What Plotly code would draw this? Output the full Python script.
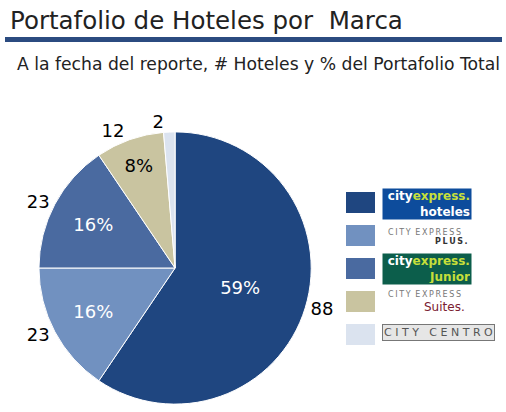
import plotly.graph_objects as go

brands = ["City Express Hoteles", "City Express Plus", "City Express Junior",
          "City Express Suites", "City Centro"]
hotels = [88, 23, 23, 12, 2]
pct_labels = ["%{percent:.0%}", "%{percent:.0%}", "%{percent:.0%}", "%{percent:.0%}", ""]
colors = ["#1f4680", "#7191c0", "#4a6aa0", "#c9c4a0", "#dbe3ef"]
pct_colors = ["white", "white", "white", "black", "black"]

FONT = "DejaVu Sans"
dom = dict(x=[0.077, 0.615], y=[0.019, 0.68])
common = dict(labels=brands, values=hotels, sort=False, direction="clockwise", rotation=0,
              domain=dom, showlegend=False)

fig = go.Figure()
fig.add_trace(go.Pie(
    **common,
    marker=dict(colors=colors, line=dict(color="white", width=1)),
    texttemplate=pct_labels, textposition="inside", insidetextorientation="horizontal",
    textfont=dict(family=FONT, size=18, color=pct_colors),
    hoverinfo="label+value+percent",
))
# value labels outside (split in two traces so the small slice label is not pushed away)
for pos in (["outside"] * 4 + ["none"], ["none"] * 4 + ["outside"]):
    fig.add_trace(go.Pie(
        **common,
        marker=dict(colors=["rgba(0,0,0,0)"] * 5, line=dict(width=0)),
        texttemplate="%{value}", textposition=pos,
        textfont=dict(family=FONT, size=18, color="black"),
        hoverinfo="skip",
    ))

shapes = [dict(type="rect", xref="paper", yref="paper",
               x0=5 / 506, x1=502 / 506, y0=1 - 42 / 412, y1=1 - 37 / 412,
               fillcolor="#2b4b80", line=dict(width=0))]
for i, c in enumerate(colors):
    top = 192 + 33 * i
    shapes.append(dict(type="rect", xref="paper", yref="paper",
                       x0=346 / 506, x1=375 / 506, y0=1 - (top + 21) / 412, y1=1 - top / 412,
                       fillcolor=c, line=dict(width=0)))

ts = "\u2009"
city_express = ts.join("CITY") + ts * 3 + ts.join("EXPRESS")
anns = [
    dict(text="Portafolio de Hoteles por\u00a0 Marca", x=8 / 506, y=1 - 4 / 412,
         xanchor="left", yanchor="top", font=dict(family=FONT, size=24.5, color="#222")),
    dict(text="A la fecha del reporte, # Hoteles y % del Portafolio Total", x=15 / 506, y=1 - 52 / 412,
         xanchor="left", yanchor="top", font=dict(family=FONT, size=17.2, color="#222")),
    # logo 1
    dict(text="<b><span style='color:white'>city</span><span style='color:#c6df3a'>express.</span></b><br><b>hoteles</b>",
         x=382 / 506, y=1 - 188 / 412, xanchor="left", yanchor="top", align="right",
         bgcolor="#0d4c9c", borderpad=1, width=86, height=28,
         font=dict(family=FONT, size=12, color="white")),
    # logo 2
    dict(text=city_express, x=386 / 506, y=1 - 226 / 412, xanchor="left", yanchor="top",
         font=dict(family=FONT, size=8, color="#777")),
    dict(text="<b>" + ts.join("PLUS.") + "</b>", x=470 / 506, y=1 - 235 / 412,
         xanchor="right", yanchor="top", font=dict(family=FONT, size=8, color="#333")),
    # logo 3
    dict(text="<b><span style='color:white'>city</span><span style='color:#c6df3a'>express.</span></b><br><b><span style='color:#c6df3a'>Junior</span></b>",
         x=382 / 506, y=1 - 253 / 412, xanchor="left", yanchor="top", align="right",
         bgcolor="#0c5e4b", borderpad=1, width=86, height=28,
         font=dict(family=FONT, size=12, color="white")),
    # logo 4
    dict(text=city_express, x=386 / 506, y=1 - 288 / 412, xanchor="left", yanchor="top",
         font=dict(family=FONT, size=8, color="#777")),
    dict(text="Suites.", x=467 / 506, y=1 - 298 / 412, xanchor="right", yanchor="top",
         font=dict(family=FONT, size=12, color="#7a2030")),
    # logo 5
    dict(text="C I T Y\u00a0\u00a0\u00a0C E N T R O", x=382 / 506, y=1 - 324 / 412,
         xanchor="left", yanchor="top", align="left", bgcolor="#e6e6e6", bordercolor="#777",
         borderwidth=1, borderpad=1, font=dict(family=FONT, size=11, color="#555")),
]
for a in anns:
    a.update(xref="paper", yref="paper", showarrow=False)

fig.update_layout(width=506, height=412, margin=dict(l=0, r=0, t=0, b=0),
                  paper_bgcolor="white", plot_bgcolor="white",
                  shapes=shapes, annotations=anns, showlegend=False)
fig.write_html("out.html", config={"displayModeBar": False},
               post_script="document.body.style.margin='0';")
